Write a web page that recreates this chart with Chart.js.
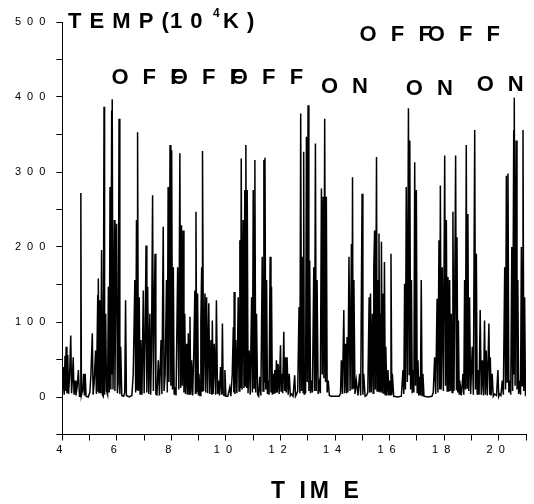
<!DOCTYPE html>
<html>
<head>
<meta charset="utf-8">
<script src="https://cdn.jsdelivr.net/npm/chart.js@4"></script>
<style>
  html, body { margin: 0; padding: 0; background: #fff; }
  #wrap { width: 534px; height: 504px; }
</style>
</head>
<body>
<div id="wrap"><canvas id="chart" width="534" height="504"></canvas></div>
<script>
// time axis values (one per vertex of the trace)
const times = [
  4.00, 4.04, 4.07, 4.10, 4.12, 4.14, 4.17, 4.20, 4.23, 4.27, 4.31, 4.34, 4.37, 4.40, 4.43, 4.47, 4.50, 4.55, 4.59, 4.63,
  4.66, 4.68, 4.70, 4.75, 4.78, 4.81, 4.84, 4.87, 4.95, 5.01, 5.05, 5.10, 5.13, 5.17, 5.22, 5.25, 5.30, 5.31, 5.32, 5.35,
  5.38, 5.41, 5.44, 5.47, 5.50, 5.53, 5.55, 5.59, 5.62, 5.66, 5.69, 5.72, 5.75, 5.78, 5.81, 5.82, 5.83, 5.86, 5.91, 5.93,
  5.96, 5.99, 6.02, 6.05, 6.08, 6.11, 6.14, 6.18, 6.25, 6.29, 6.32, 6.35, 6.45, 6.55, 6.60, 6.66, 6.69, 6.72, 6.74, 6.76,
  6.79, 6.82, 6.85, 6.88, 6.92, 6.97, 7.00, 7.04, 7.07, 7.10, 7.13, 7.17, 7.21, 7.24, 7.27, 7.31, 7.34, 7.37, 7.40, 7.43,
  7.47, 7.52, 7.56, 7.62, 7.65, 7.70, 7.73, 7.77, 7.82, 7.85, 7.88, 7.91, 7.95, 7.98, 8.01, 8.04, 8.07, 8.10, 8.13, 8.17,
  8.23, 8.27, 8.31, 8.34, 8.37, 8.40, 8.43, 8.46, 8.49, 8.52, 8.56, 8.59, 8.62, 8.65, 8.68, 8.71, 8.74, 8.78, 8.82, 8.86,
  8.88, 8.90, 8.93, 8.96, 8.99, 9.01, 9.05, 9.08, 9.11, 9.13, 9.14, 9.18, 9.23, 9.26, 9.29, 9.33, 9.37, 9.41, 9.45, 9.48,
  9.50, 9.53, 9.57, 9.62, 9.65, 9.69, 9.72, 9.76, 9.80, 9.84, 9.87, 9.90, 9.93, 9.96, 10.00, 10.07, 10.14, 10.18, 10.23, 10.27,
  10.29, 10.30, 10.33, 10.36, 10.40, 10.45, 10.48, 10.51, 10.54, 10.56, 10.59, 10.63, 10.66, 10.69, 10.71, 10.73, 10.76, 10.78, 10.81, 10.85,
  10.89, 10.94, 10.97, 11.00, 11.03, 11.06, 11.09, 11.12, 11.16, 11.20, 11.24, 11.28, 11.33, 11.36, 11.39, 11.41, 11.43, 11.46, 11.49, 11.52,
  11.55, 11.58, 11.62, 11.65, 11.67, 11.70, 11.73, 11.76, 11.79, 11.82, 11.85, 11.88, 11.91, 11.95, 12.00, 12.02, 12.04, 12.08, 12.12, 12.15,
  12.19, 12.21, 12.24, 12.28, 12.32, 12.36, 12.40, 12.46, 12.52, 12.55, 12.59, 12.63, 12.68, 12.71, 12.74, 12.77, 12.80, 12.83, 12.85, 12.87,
  12.89, 12.92, 12.95, 12.98, 13.01, 13.04, 13.07, 13.10, 13.13, 13.17, 13.22, 13.25, 13.28, 13.31, 13.34, 13.38, 13.42, 13.46, 13.50, 13.53,
  13.56, 13.59, 13.62, 13.65, 13.68, 13.71, 13.75, 13.79, 13.85, 14.15, 14.20, 14.23, 14.27, 14.32, 14.35, 14.39, 14.42, 14.44, 14.47, 14.51,
  14.55, 14.60, 14.62, 14.64, 14.66, 14.69, 14.73, 14.78, 14.84, 14.90, 14.94, 14.99, 15.02, 15.05, 15.10, 15.15, 15.20, 15.25, 15.27, 15.30,
  15.33, 15.37, 15.40, 15.42, 15.45, 15.48, 15.52, 15.54, 15.56, 15.59, 15.61, 15.64, 15.66, 15.68, 15.70, 15.73, 15.76, 15.79, 15.81, 15.84,
  15.86, 15.90, 15.94, 15.97, 16.00, 16.03, 16.05, 16.08, 16.10, 16.15, 16.30, 16.43, 16.49, 16.52, 16.55, 16.58, 16.61, 16.65, 16.69, 16.72,
  16.74, 16.77, 16.80, 16.83, 16.86, 16.89, 16.92, 16.95, 16.98, 17.01, 17.04, 17.07, 17.10, 17.13, 17.16, 17.19, 17.22, 17.26, 17.40, 17.55,
  17.60, 17.65, 17.69, 17.74, 17.77, 17.81, 17.84, 17.86, 17.89, 17.93, 17.97, 18.02, 18.05, 18.08, 18.11, 18.14, 18.17, 18.20, 18.23, 18.26,
  18.29, 18.32, 18.36, 18.39, 18.42, 18.45, 18.47, 18.50, 18.52, 18.55, 18.57, 18.63, 18.69, 18.72, 18.75, 18.78, 18.81, 18.84, 18.87, 18.90,
  18.93, 18.97, 19.03, 19.07, 19.12, 19.15, 19.18, 19.21, 19.24, 19.28, 19.32, 19.36, 19.40, 19.44, 19.48, 19.51, 19.54, 19.58, 19.64, 19.67,
  19.69, 19.72, 19.76, 19.80, 19.85, 19.92, 19.97, 20.00, 20.03, 20.08, 20.13, 20.17, 20.22, 20.25, 20.28, 20.31, 20.34, 20.37, 20.40, 20.44,
  20.48, 20.51, 20.55, 20.56, 20.57, 20.60, 20.64, 20.67, 20.70, 20.73, 20.77, 20.80, 20.83, 20.86, 20.89, 20.92, 20.95, 20.98, 21.00
];

// temperature values (10^4 K), same order as times
const temps = [
  5, 40, 3, 55, 8, 67, 5, 56, 4, 30, 82, 5, 25, 53, 3, 22, 2, 15, 36, 1,
  1, 272, 2, 10, 31, 2, 31, 1, 0, 6, 30, 85, 3, 20, 62, 4, 136, 8, 158, 6,
  129, 5, 196, 3, 1, 387, 3, 111, 8, 3, 147, 6, 280, 10, 382, 30, 397, 10, 236, 8,
  160, 231, 5, 20, 371, 4, 67, 2, 1, 6, 129, 2, 0, 2, 30, 156, 6, 236, 10, 353,
  8, 133, 4, 76, 3, 142, 5, 90, 202, 6, 147, 4, 111, 3, 60, 269, 8, 120, 191, 4,
  3, 49, 2, 76, 4, 227, 8, 30, 156, 6, 280, 20, 336, 15, 329, 10, 173, 4, 13, 2,
  173, 10, 325, 12, 229, 15, 222, 6, 111, 4, 71, 3, 85, 4, 107, 3, 49, 2, 60, 142,
  5, 247, 6, 138, 3, 31, 2, 100, 173, 8, 328, 8, 138, 6, 133, 5, 125, 4, 76, 3,
  102, 4, 71, 3, 129, 4, 22, 2, 40, 3, 98, 4, 2, 36, 1, 1, 13, 1, 30, 93,
  6, 140, 4, 76, 5, 133, 8, 209, 12, 318, 10, 236, 12, 276, 15, 336, 12, 276, 5, 62,
  3, 133, 6, 276, 12, 316, 6, 111, 3, 1, 27, 2, 187, 8, 316, 20, 319, 10, 156, 4,
  22, 3, 187, 6, 147, 3, 31, 4, 36, 5, 49, 6, 44, 4, 69, 8, 31, 5, 87, 8,
  53, 6, 53, 3, 31, 2, 4, 1, 29, 1, 4, 8, 120, 5, 378, 8, 187, 6, 327, 4,
  22, 5, 347, 20, 389, 8, 182, 5, 22, 6, 173, 8, 338, 8, 156, 4, 18, 5, 278, 30,
  267, 25, 371, 20, 267, 6, 22, 2, 1, 1, 5, 49, 4, 116, 5, 71, 5, 80, 6, 187,
  8, 204, 10, 293, 12, 156, 4, 22, 2, 31, 2, 271, 3, 31, 1, 2, 6, 133, 6, 138,
  6, 111, 5, 173, 222, 10, 320, 8, 156, 8, 218, 6, 111, 7, 207, 5, 138, 4, 180, 3,
  67, 2, 36, 2, 22, 3, 191, 3, 31, 1, 0, 1, 36, 4, 151, 10, 280, 20, 385, 30,
  342, 10, 156, 5, 36, 6, 313, 15, 276, 6, 49, 2, 27, 2, 156, 2, 31, 1, 0, 1,
  6, 53, 4, 131, 6, 209, 10, 282, 10, 173, 8, 322, 15, 236, 8, 160, 7, 156, 8, 111,
  6, 247, 8, 150, 322, 10, 213, 6, 102, 4, 22, 2, 31, 3, 156, 10, 336, 12, 244, 8,
  133, 4, 67, 3, 356, 10, 191, 4, 36, 3, 116, 3, 49, 2, 102, 3, 62, 2, 98, 3,
  53, 2, 31, 1, 4, 2, 36, 1, 4, 2, 22, 3, 173, 10, 295, 20, 298, 6, 22, 3,
  200, 8, 356, 30, 399, 15, 342, 10, 156, 4, 22, 3, 200, 15, 356, 8, 133, 3, 4
];

// tick labels shown on the axes
const xTickLabels = [4, 6, 8, 10, 12, 14, 16, 18, 20];
const yTickLabels = [0, 100, 200, 300, 400, 500];

// ON / OFF annotations, placed in data units (time, temp)
const markTexts = ['O F F', 'O F F', 'O F F', 'O F F', 'O F F', 'O N', 'O N', 'O N'];
const markTimes = [5.80, 7.98, 10.18, 14.90, 17.40, 13.48, 16.59, 19.19];
const markTemps = [417, 417, 417, 475, 475, 405, 403, 408];

const FONT = 'Arial, "Liberation Sans", sans-serif';

const textPlugin = {
  id: 'texts',
  beforeDraw(chart) {
    // spaced-out tick labels like the original
    chart.ctx.letterSpacing = '6px';
  },
  afterDraw(chart) {
    const ctx = chart.ctx;
    const xs = chart.scales.x, ys = chart.scales.y;
    ctx.save();
    ctx.fillStyle = '#000';
    ctx.textAlign = 'left';
    ctx.textBaseline = 'alphabetic';

    // title TEMP(10^4 K)
    ctx.letterSpacing = '1px';
    ctx.font = 'bold 22px ' + FONT;
    ctx.fillText('T E M P (1 0', 68, 28);
    ctx.font = 'bold 12px ' + FONT;
    ctx.fillText('4', 213, 17);
    ctx.font = 'bold 22px ' + FONT;
    ctx.fillText('K )', 223, 28);

    // ON / OFF marks
    ctx.letterSpacing = '4px';
    ctx.font = 'bold 22px ' + FONT;
    markTexts.forEach((txt, i) => {
      ctx.fillText(txt, xs.getPixelForValue(markTimes[i]), ys.getPixelForValue(markTemps[i]));
    });

    // x axis title
    ctx.font = 'bold 23px ' + FONT;
    ctx.fillText('T IM E', 271, 498);
    ctx.restore();
  }
};

new Chart(document.getElementById('chart'), {
  type: 'line',
  data: {
    datasets: [{
      data: times.map((t, i) => ({ x: t, y: temps[i] })),
      borderColor: '#000',
      borderWidth: 1.5,
      pointRadius: 0,
      tension: 0,
      fill: false
    }]
  },
  options: {
    responsive: false,
    animation: false,
    devicePixelRatio: 1,
    layout: { padding: { top: 22, right: 8, left: 0, bottom: 0 } },
    plugins: { legend: { display: false }, tooltip: { enabled: false } },
    scales: {
      x: {
        type: 'linear',
        min: 4,
        max: 21,
        afterFit: s => { s.height = 69.5; },
        ticks: {
          stepSize: 1,
          autoSkip: false,
          maxRotation: 0,
          padding: 3,
          color: '#000',
          font: { family: FONT, size: 11 },
          callback: v => xTickLabels.includes(v) ? String(v) : ''
        },
        grid: { drawOnChartArea: false, drawTicks: true, tickLength: 6, color: '#000' },
        border: { display: true, color: '#000', width: 1 }
      },
      y: {
        min: -50,
        max: 500,
        afterFit: s => { s.width = 62.3; },
        ticks: {
          stepSize: 50,
          autoSkip: false,
          padding: 5,
          color: '#000',
          font: { family: FONT, size: 11 },
          callback: v => yTickLabels.includes(v) ? String(v) : ''
        },
        grid: { drawOnChartArea: false, drawTicks: true, tickLength: 6, color: '#000' },
        border: { display: true, color: '#000', width: 1 }
      }
    }
  },
  plugins: [textPlugin]
});
</script>
</body>
</html>
